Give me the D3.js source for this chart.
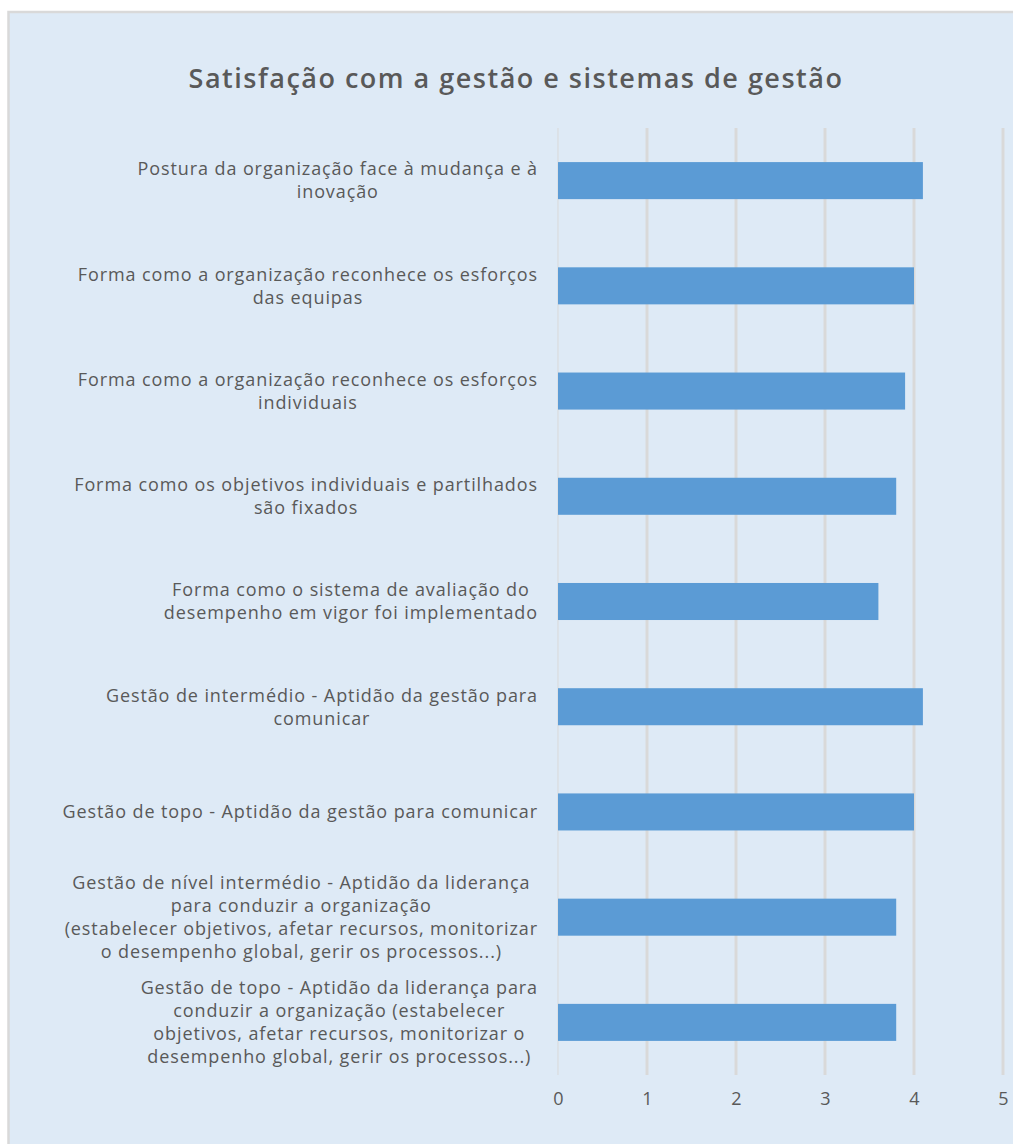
<!DOCTYPE html>
<html>
<head>
<meta charset="utf-8">
<script src="https://cdn.jsdelivr.net/npm/d3@7"></script>
<style>
    body { margin: 0; background: #fff; }
    .label { font-family: 'Open Sans', sans-serif; font-size: 18px; letter-spacing: 0.9px; fill: #595959; }
    .tick-label { font-family: 'Open Sans', sans-serif; font-size: 18px; fill: #595959; }
    .title { font-family: 'Open Sans', sans-serif; font-size: 27px; font-weight: 600; letter-spacing: 1.5px; fill: #595959; }
</style>
</head>
<body>
<div id="chart"></div>
<script>
// categories top to bottom, line breaks as in the chart
const categories = [
    'Postura da organização face à mudança e à\ninovação',
    'Forma como a organização reconhece os esforços\ndas equipas',
    'Forma como a organização reconhece os esforços\nindividuais',
    'Forma como os objetivos individuais e partilhados\nsão fixados',
    'Forma como o sistema de avaliação do\ndesempenho em vigor foi implementado',
    'Gestão de intermédio - Aptidão da gestão para\ncomunicar',
    'Gestão de topo - Aptidão da gestão para comunicar',
    'Gestão de nível intermédio - Aptidão da liderança\npara conduzir a organização\n(estabelecer objetivos, afetar recursos, monitorizar\no desempenho global, gerir os processos...)',
    'Gestão de topo - Aptidão da liderança para\nconduzir a organização (estabelecer\nobjetivos, afetar recursos, monitorizar o\ndesempenho global, gerir os processos...)'
]
const values = [4.1, 4.0, 3.9, 3.8, 3.6, 4.1, 4.0, 3.8, 3.8]
const ticks = [0, 1, 2, 3, 4, 5]
const title = 'Satisfação com a gestão e sistemas de gestão'

const width = 1013, height = 1144
const plot = {left: 558, right: 1003, top: 128, bottom: 1075}
const labelRight = 538
const lineHeight = 23

const svg = d3.select('#chart').append('svg')
    .attr('width', width)
    .attr('height', height)

// chart area with the grey frame
svg.append('rect')
    .attr('x', 8.5)
    .attr('y', 12)
    .attr('width', width + 20)
    .attr('height', height + 20)
    .attr('fill', '#deeaf6')
    .attr('stroke', '#d9d9d9')
    .attr('stroke-width', 2.5)

svg.append('text')
    .attr('class', 'title')
    .attr('x', 516)
    .attr('y', 79)
    .attr('dy', '0.35em')
    .attr('text-anchor', 'middle')
    .text(title)

const x_scale = d3.scaleLinear()
    .domain([0, 5])
    .range([plot.left, plot.right])
const y_scale = d3.scaleBand()
    .domain(categories)
    .range([plot.top, plot.bottom])
    .paddingInner(0.648)
    .paddingOuter(0.324)

// gridlines
svg.append('g')
    .selectAll('line')
    .data(ticks)
    .join('line')
    .attr('x1', d => x_scale(d))
    .attr('x2', d => x_scale(d))
    .attr('y1', plot.top)
    .attr('y2', plot.bottom)
    .attr('stroke', '#d9d9d9')
    .attr('stroke-width', d => d === 0 ? 1 : 3)

// bars
svg.append('g')
    .selectAll('rect')
    .data(categories)
    .join('rect')
    .attr('x', x_scale(0))
    .attr('y', d => y_scale(d))
    .attr('width', (d, i) => x_scale(values[i]) - x_scale(0))
    .attr('height', y_scale.bandwidth())
    .attr('fill', '#5b9bd5')

// x tick labels
const x_axis = d3.axisBottom(x_scale)
    .tickValues(ticks)
    .tickFormat(d3.format('d'))
    .tickSize(0)
    .tickPadding(0)
const axis = svg.append('g')
    .attr('transform', `translate(0, ${plot.bottom})`)
    .call(x_axis)
axis.select('.domain').remove()
axis.selectAll('text')
    .attr('class', 'tick-label')
    .attr('y', 24)
    .attr('dy', '0.35em')

// category labels, wrapped lines centred inside a right-aligned block
categories.forEach(cat => {
    const lines = cat.split('\n')
    const cy = y_scale(cat) + y_scale.bandwidth()/2
    const g = svg.append('g')
    const texts = lines.map((line, j) => g.append('text')
        .attr('class', 'label')
        .attr('y', cy + (j - (lines.length - 1)/2)*lineHeight)
        .attr('dy', '0.35em')
        .attr('text-anchor', 'middle')
        .text(line))
    const w = d3.max(texts, t => t.node().getComputedTextLength())
    texts.forEach(t => t.attr('x', labelRight - w/2))
})
</script>
</body>
</html>
